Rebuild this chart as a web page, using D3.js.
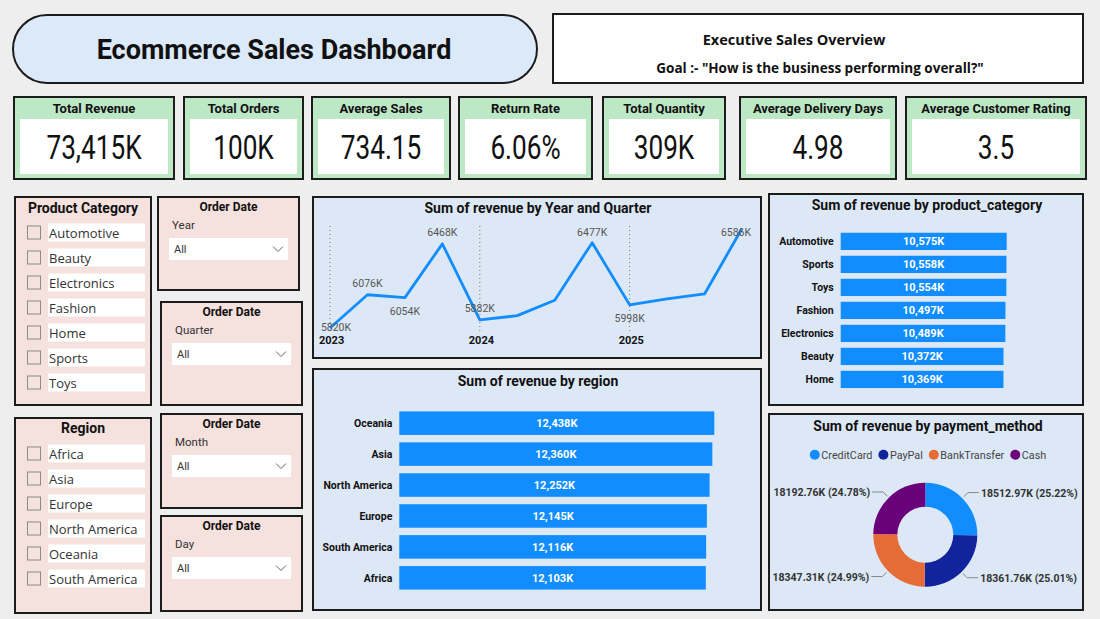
<!DOCTYPE html>
<html>
<head>
<meta charset="utf-8">
<script src="https://cdn.jsdelivr.net/npm/d3@7"></script>
<style>
  body { margin: 0; background: #eeeeee; }
  svg { display: block; font-family: Roboto, "Open Sans", sans-serif; }
</style>
</head>
<body>
<div id="dashboard"></div>
<script>
// ---- data ----
const kpiTitles = ["Total Revenue", "Total Orders", "Average Sales", "Return Rate", "Total Quantity", "Average Delivery Days", "Average Customer Rating"];
const kpiValues = ["73,415K", "100K", "734.15", "6.06%", "309K", "4.98", "3.5"];

const quarters = ["2023 Q1", "2023 Q2", "2023 Q3", "2023 Q4", "2024 Q1", "2024 Q2", "2024 Q3", "2024 Q4", "2025 Q1", "2025 Q2", "2025 Q3", "2025 Q4"];
const quarterRevenue = [5820, 6076, 6054, 6468, 5882, 5915, 6034, 6477, 5998, 6045, 6082, 6586];
// which points Power BI labelled, and on which side
const quarterLabelSide = ["below", "above", "below", "above", "above", null, null, "above", "below", null, null, "above"];

const categories = ["Automotive", "Sports", "Toys", "Fashion", "Electronics", "Beauty", "Home"];
const categoryRevenue = [10575, 10558, 10554, 10497, 10489, 10372, 10369];

const regions = ["Oceania", "Asia", "North America", "Europe", "South America", "Africa"];
const regionRevenue = [12438, 12360, 12252, 12145, 12116, 12103];

const paymentMethods = ["CreditCard", "PayPal", "BankTransfer", "Cash"];
const paymentRevenue = [18512.97, 18361.76, 18347.31, 18192.76];
const paymentColors = ["#118DFF", "#12239E", "#E66C37", "#6B007B"];

const categorySlicerItems = ["Automotive", "Beauty", "Electronics", "Fashion", "Home", "Sports", "Toys"];
const regionSlicerItems = ["Africa", "Asia", "Europe", "North America", "Oceania", "South America"];
const dateSlicerFields = ["Year", "Quarter", "Month", "Day"];

// ---- page ----
const W = 1100, H = 619;
const INK = "#1c1c1c";
const PANEL_BLUE = "#dde8f6";
const PANEL_PINK = "#f5e1dd";
const BAR_BLUE = "#118DFF";

const svg = d3.select("#dashboard").append("svg")
  .attr("width", W)
  .attr("height", H);

svg.append("rect").attr("width", W).attr("height", H).attr("fill", "#eeeeee");

function panel(x, y, w, h, fill) {
  return svg.append("rect")
    .attr("x", x).attr("y", y)
    .attr("width", w).attr("height", h)
    .attr("fill", fill)
    .attr("stroke", INK)
    .attr("stroke-width", 2);
}

function label(x, y, txt, size, weight, anchor, color) {
  return svg.append("text")
    .attr("x", x).attr("y", y)
    .attr("font-size", size)
    .attr("font-weight", weight || 400)
    .attr("text-anchor", anchor || "middle")
    .attr("fill", color || "#111")
    .text(txt);
}

// ---- header ----
svg.append("rect")
  .attr("x", 13).attr("y", 15)
  .attr("width", 524).attr("height", 68)
  .attr("rx", 34)
  .attr("fill", "#dce9f8")
  .attr("stroke", INK)
  .attr("stroke-width", 2);
label(274, 59, "Ecommerce Sales Dashboard", 27, 700);

panel(553, 14, 530, 69, "#ffffff");
label(794, 45, "Executive Sales Overview", 14.5, 700).attr("font-family", "'Open Sans', sans-serif");
label(820, 73, "Goal :- \"How is the business performing overall?\"", 13.5, 700).attr("font-family", "'Open Sans', sans-serif");

// ---- KPI cards ----
const cardBoxes = [[14, 97, 160, 82], [184, 97, 119, 82], [312, 97, 138, 82], [459, 97, 133, 82],
  [603, 97, 122, 82], [740, 97, 156, 82], [906, 97, 180, 82]];

kpiTitles.forEach(function (t, i) {
  const [x, y, w, h] = cardBoxes[i];
  panel(x, y, w, h, "#bde8c6");
  svg.append("rect")
    .attr("x", x + 6).attr("y", y + 22)
    .attr("width", w - 12).attr("height", h - 27)
    .attr("fill", "#ffffff");
  label(x + w / 2, y + 15.5, t, 13, 700);
  // value font in the reference is a narrow face, squeeze Roboto horizontally
  svg.append("text")
    .attr("transform", `translate(${x + w / 2},${y + 62}) scale(0.77,1)`)
    .attr("font-size", 34)
    .attr("text-anchor", "middle")
    .attr("fill", "#111")
    .text(kpiValues[i]);
});

// ---- list slicers ----
function listSlicer(x, y, w, h, title, items, titleDy) {
  panel(x, y, w, h, PANEL_PINK);
  label(x + w / 2, y + titleDy, title, 14, 700);
  items.forEach(function (it, i) {
    const cy = y + 35.5 + i * 25;
    svg.append("rect")
      .attr("x", x + 12.5).attr("y", cy - 6.5)
      .attr("width", 13).attr("height", 13)
      .attr("fill", "none")
      .attr("stroke", "#8a8a8a")
      .attr("stroke-width", 1);
    svg.append("rect")
      .attr("x", x + 33).attr("y", cy - 9)
      .attr("width", w - 39).attr("height", 18)
      .attr("fill", "#ffffff");
    svg.append("text")
      .attr("x", x + 34).attr("y", cy + 5)
      .attr("font-family", "'Open Sans', sans-serif")
      .attr("font-size", 13)
      .attr("fill", "#333")
      .text(it);
  });
}
listSlicer(15, 197, 136, 208, "Product Category", categorySlicerItems, 16);
listSlicer(15, 418, 136, 195, "Region", regionSlicerItems, 15);

// ---- date dropdown slicers ----
const dateBoxes = [[158, 197, 141, 93], [161, 302, 141, 103], [161, 414, 141, 94], [161, 516, 141, 95]];
dateSlicerFields.forEach(function (f, i) {
  const [x, y, w, h] = dateBoxes[i];
  panel(x, y, w, h, PANEL_PINK);
  label(x + w / 2, y + 13.5, "Order Date", 12, 700);
  svg.append("text")
    .attr("x", x + 14).attr("y", y + 32)
    .attr("font-size", 11.5)
    .attr("fill", "#333")
    .text(f);
  svg.append("rect")
    .attr("x", x + 11).attr("y", y + 41)
    .attr("width", 119).attr("height", 22)
    .attr("fill", "#ffffff");
  svg.append("text")
    .attr("x", x + 16).attr("y", y + 56)
    .attr("font-size", 11)
    .attr("fill", "#333")
    .text("All");
  svg.append("path")
    .attr("d", `M${x + 115},${y + 49.5} l5,5 l5,-5`)
    .attr("fill", "none")
    .attr("stroke", "#666")
    .attr("stroke-width", 1);
});

// ---- line chart: revenue by year and quarter ----
panel(313, 197, 448, 161, PANEL_BLUE);
label(538, 213, "Sum of revenue by Year and Quarter", 14, 700);

const xQ = d3.scalePoint().domain(quarters).range([330, 742]);
const yQ = d3.scaleLinear().domain(d3.extent(quarterRevenue)).range([328, 228.5]);
const lineData = quarters.map((q, i) => ({ q: q, v: quarterRevenue[i], side: quarterLabelSide[i] }));

const years = quarters.filter(q => q.endsWith("Q1"));
svg.append("g").selectAll("line")
  .data(years)
  .join("line")
  .attr("x1", d => xQ(d)).attr("x2", d => xQ(d))
  .attr("y1", 226).attr("y2", 332)
  .attr("stroke", "#777")
  .attr("stroke-width", 1)
  .attr("stroke-dasharray", "1,3");
svg.append("g").selectAll("text")
  .data(years)
  .join("text")
  .attr("x", d => xQ(d) - 11)
  .attr("y", 344)
  .attr("font-size", 11)
  .attr("font-weight", 700)
  .attr("fill", "#111")
  .text(d => d.slice(0, 4));

svg.append("path")
  .datum(lineData)
  .attr("fill", "none")
  .attr("stroke", BAR_BLUE)
  .attr("stroke-width", 2.8)
  .attr("stroke-linejoin", "round")
  .attr("d", d3.line().x(d => xQ(d.q)).y(d => yQ(d.v)));

svg.append("g").selectAll("text")
  .data(lineData.filter(d => d.side))
  .join("text")
  .attr("x", d => Math.min(xQ(d.q) + (d.side === "below" && yQ(d.v) > 320 ? 6 : 0), 736))
  .attr("y", d => d.side === "above" ? Math.max(yQ(d.v) - 8, 235.5) : Math.min(yQ(d.v) + 17, 331))
  .attr("font-size", 10.5)
  .attr("text-anchor", "middle")
  .attr("fill", "#555")
  .text(d => d.v + "K");

// ---- horizontal bar helper ----
function hbars(names, values, opt) {
  const x = d3.scaleLinear().domain([0, d3.max(values)]).range([opt.x0, opt.x1]);
  const y = d3.scaleBand().domain(names).range([opt.y0, opt.y1]).paddingInner(opt.pad).paddingOuter(opt.pad);
  const rows = names.map((n, i) => ({ n: n, v: values[i] }));
  const g = svg.append("g");
  g.selectAll("rect")
    .data(rows)
    .join("rect")
    .attr("x", x(0))
    .attr("y", d => y(d.n))
    .attr("width", d => x(d.v) - x(0))
    .attr("height", y.bandwidth())
    .attr("fill", BAR_BLUE);
  g.selectAll("text.val")
    .data(rows)
    .join("text")
    .attr("class", "val")
    .attr("x", d => (x(0) + x(d.v)) / 2)
    .attr("y", d => y(d.n) + y.bandwidth() / 2 + 4)
    .attr("text-anchor", "middle")
    .attr("font-size", 11)
    .attr("font-weight", 700)
    .attr("fill", "#ffffff")
    .text(d => d3.format(",")(d.v) + "K");
  g.selectAll("text.cat")
    .data(rows)
    .join("text")
    .attr("class", "cat")
    .attr("x", x(0) - 7)
    .attr("y", d => y(d.n) + y.bandwidth() / 2 + 3.7)
    .attr("text-anchor", "end")
    .attr("font-size", opt.labelSize)
    .attr("font-weight", 700)
    .attr("fill", "#111")
    .text(d => d.n);
}

// ---- revenue by product category ----
panel(769, 194, 314, 211, PANEL_BLUE);
label(927, 210, "Sum of revenue by product_category", 14, 700);
hbars(categories, categoryRevenue, { x0: 840.7, x1: 1006.7, y0: 227, y1: 393.8, pad: 0.25, labelSize: 10.5 });

// ---- revenue by region ----
panel(313, 369, 448, 241, PANEL_BLUE);
label(538, 385.5, "Sum of revenue by region", 14, 700);
hbars(regions, regionRevenue, { x0: 399.3, x1: 714.3, y0: 404, y1: 597, pad: 0.24, labelSize: 10.5 });

// ---- donut: revenue by payment method ----
panel(769, 414, 314, 196, PANEL_BLUE);
label(928, 430.5, "Sum of revenue by payment_method", 14, 700);

const legend = svg.append("g");
let lx = 0;
paymentMethods.forEach(function (m, i) {
  const item = legend.append("g").attr("transform", `translate(${lx},0)`);
  item.append("circle").attr("cx", 0).attr("cy", 0).attr("r", 5).attr("fill", paymentColors[i]);
  const t = item.append("text")
    .attr("x", 6.5).attr("y", 4)
    .attr("font-size", 10.8)
    .attr("fill", "#444")
    .text(m);
  lx += 6.5 + t.node().getComputedTextLength() + 11;
});
legend.attr("transform", `translate(${928 - (lx - 11 + 5) / 2 + 5},454.7)`);

const cx = 925.3, cy = 534.7, rOuter = 52, rInner = 28;
const total = d3.sum(paymentRevenue);
const payRows = paymentMethods.map((m, i) => ({ m: m, v: paymentRevenue[i], c: paymentColors[i] }));
const pie = d3.pie().value(d => d.v).sort(null);
const arcs = pie(payRows);
const arc = d3.arc().innerRadius(rInner).outerRadius(rOuter);

const donut = svg.append("g").attr("transform", `translate(${cx},${cy})`);
donut.selectAll("path")
  .data(arcs)
  .join("path")
  .attr("d", arc)
  .attr("fill", d => d.data.c);

arcs.forEach(function (a) {
  const mid = (a.startAngle + a.endAngle) / 2;
  const sx = Math.sin(mid), sy = -Math.cos(mid);
  const p1 = [sx * (rOuter + 2), sy * (rOuter + 2)];
  const p2 = [sx * (rOuter + 8), sy * (rOuter + 8)];
  const right = sx > 0;
  const p3 = [p2[0] + (right ? 11 : -11), p2[1]];
  donut.append("polyline")
    .attr("points", [p1, p2, p3].map(p => p.join(",")).join(" "))
    .attr("fill", "none")
    .attr("stroke", "#888")
    .attr("stroke-width", 1);
  donut.append("text")
    .attr("x", p3[0] + (right ? 2 : -2))
    .attr("y", p3[1] + 4)
    .attr("text-anchor", right ? "start" : "end")
    .attr("font-size", 10.5)
    .attr("font-weight", 700)
    .attr("fill", "#333")
    .text(`${d3.format(".2f")(a.data.v)}K (${d3.format(".2%")(a.data.v / total)})`);
});
</script>
</body>
</html>
